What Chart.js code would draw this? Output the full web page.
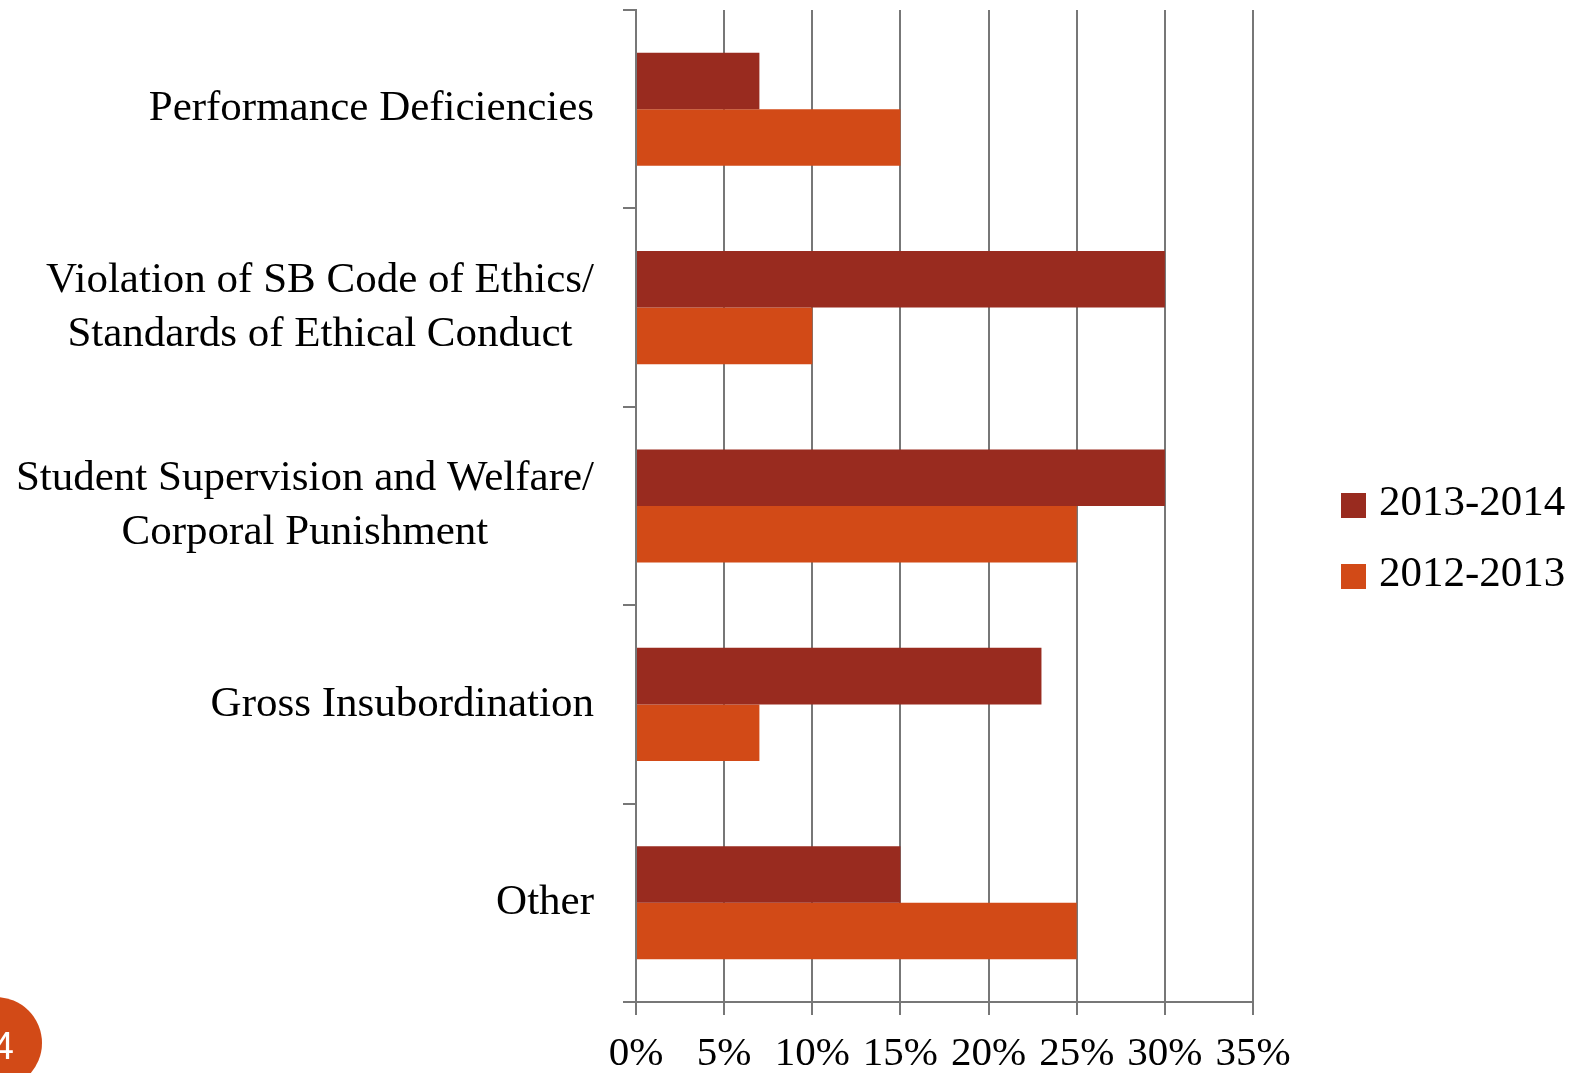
<!DOCTYPE html>
<html>
<head>
<meta charset="utf-8">
<script src="https://cdn.jsdelivr.net/npm/chart.js@4.4.1/dist/chart.umd.min.js"></script>
<style>
  html, body { margin: 0; padding: 0; background: #fff; overflow: hidden; }
</style>
</head>
<body>
<canvas id="motivosChart" width="1574" height="1073"></canvas>
<script>
const categorias = [
  'Performance Deficiencies',
  ['Violation of SB Code of Ethics/', 'Standards of Ethical Conduct'],
  ['Student Supervision and Welfare/', 'Corporal Punishment'],
  'Gross Insubordination',
  'Other'
];
const periodos = ['2013-2014', '2012-2013'];
const valores2013 = [7, 30, 30, 23, 15];
const valores2012 = [15, 10, 25, 7, 25];
const etiquetasX = ['0%', '5%', '10%', '15%', '20%', '25%', '30%', '35%'];

const rojoOscuro = '#992b1f';
const naranja = '#d24a17';
const gris = '#777777';
const serif = "'Liberation Serif', 'Times New Roman', serif";

// etiquetas del eje Y centradas como bloque, leyenda y número de diapositiva
const extras = {
  id: 'extras',
  afterDraw(chart) {
    const c = chart.ctx;
    const y = chart.scales.y;
    c.save();
    c.fillStyle = '#000';
    c.font = '43px ' + serif;
    c.textBaseline = 'middle';
    c.textAlign = 'center';
    categorias.forEach((cat, i) => {
      const lineas = Array.isArray(cat) ? cat : [cat];
      const maxW = Math.max(...lineas.map(l => c.measureText(l).width));
      const cx = 594 - maxW / 2;
      const yc = y.getPixelForValue(i);
      lineas.forEach((l, j) => {
        c.fillText(l, cx, yc + (j - (lineas.length - 1) / 2) * 54);
      });
    });

    // leyenda
    c.font = '43px ' + serif;
    c.textAlign = 'left';
    c.textBaseline = 'alphabetic';
    chart.data.datasets.forEach((ds, i) => {
      const top = 493 + i * 71;
      c.fillStyle = ds.backgroundColor;
      c.fillRect(1341, top, 25, 25);
      c.fillStyle = '#000';
      c.fillText(ds.label, 1379, top + 22);
    });

    // número de diapositiva
    c.fillStyle = naranja;
    c.beginPath();
    c.arc(-4, 1043, 46, 0, Math.PI * 2);
    c.fill();
    c.fillStyle = '#fff';
    c.font = '38px "Liberation Sans", Arial, sans-serif';
    c.textAlign = 'right';
    c.fillText('4', 14, 1059);
    c.restore();
  }
};

const ctx = document.getElementById('motivosChart').getContext('2d');
const motivosChart = new Chart(ctx, {
  type: 'bar',
  data: {
    labels: categorias,
    datasets: [
      { label: periodos[0], data: valores2013, backgroundColor: rojoOscuro },
      { label: periodos[1], data: valores2012, backgroundColor: naranja }
    ]
  },
  options: {
    indexAxis: 'y',
    responsive: false,
    animation: false,
    categoryPercentage: 0.57,
    barPercentage: 1.0,
    layout: { padding: { top: 10, right: 321, left: 0, bottom: 0 } },
    plugins: {
      legend: { display: false },
      tooltip: { enabled: false }
    },
    scales: {
      x: {
        min: 0,
        max: 35,
        afterFit(scale) { scale.height = 71; },
        ticks: {
          stepSize: 5,
          padding: 15,
          color: '#000',
          font: { family: serif, size: 41 },
          callback: (v, i) => etiquetasX[i]
        },
        grid: { color: gris, lineWidth: 2, tickLength: 13 },
        border: { color: gris, width: 2 }
      },
      y: {
        afterFit(scale) { scale.width = 636; },
        ticks: { display: false },
        grid: { drawOnChartArea: false, color: gris, lineWidth: 2, tickLength: 13 },
        border: { color: gris, width: 2 }
      }
    }
  },
  plugins: [extras]
});
</script>
</body>
</html>
